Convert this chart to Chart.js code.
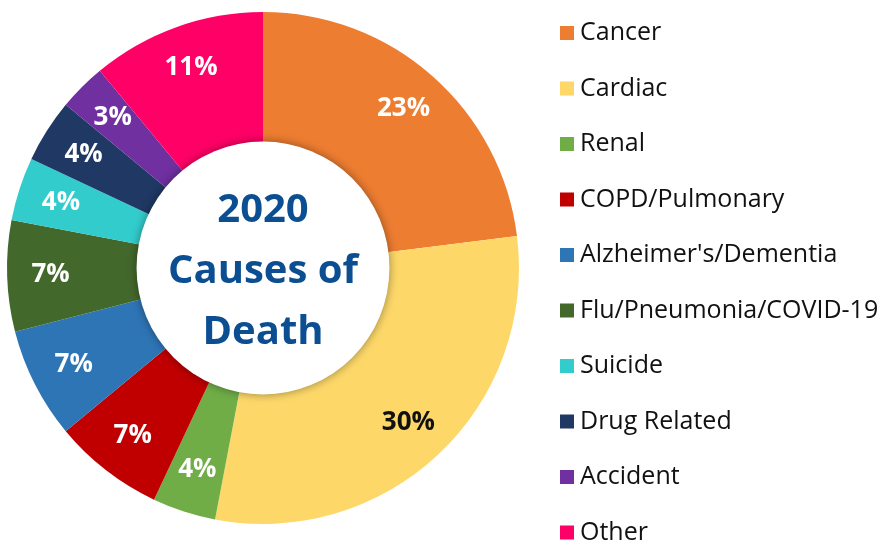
<!DOCTYPE html>
<html>
<head>
<meta charset="utf-8">
<script src="https://cdn.jsdelivr.net/npm/chart.js@4.4.1/dist/chart.umd.min.js"></script>
<style>
  html, body { margin: 0; padding: 0; background: #fff; overflow: hidden; }
  #wrap { width: 892px; height: 543px; position: relative; }
</style>
</head>
<body>
<div id="wrap"><canvas id="myChart" width="892" height="543"></canvas></div>
<script>
const causes = ["Cancer", "Cardiac", "Renal", "COPD/Pulmonary", "Alzheimer's/Dementia",
  "Flu/Pneumonia/COVID-19", "Suicide", "Drug Related", "Accident", "Other"];
const percents = [23, 30, 4, 7, 7, 7, 4, 4, 3, 11];
const sliceColors = ["#ED7D31", "#FDD869", "#70AD47", "#C00000", "#2E75B6",
  "#43682B", "#33CCCC", "#1F3864", "#7030A0", "#FF0066"];
const labelColors = ["#fff", "#111", "#fff", "#fff", "#fff", "#fff", "#fff", "#fff", "#fff", "#fff"];
const centerLines = ["2020", "Causes of", "Death"];

// white centre disc with soft shadow + title text
const centerPlugin = {
  id: 'centerPlugin',
  afterDatasetsDraw(chart) {
    const ctx = chart.ctx;
    const arc = chart.getDatasetMeta(0).data[0];
    const { x, y, innerRadius } = arc.getProps(['x', 'y', 'innerRadius'], true);
    ctx.save();
    ctx.shadowColor = 'rgba(0,0,0,0.4)';
    ctx.shadowBlur = 10;
    ctx.beginPath();
    ctx.arc(x, y, innerRadius + 1, 0, Math.PI * 2);
    ctx.fillStyle = '#fff';
    ctx.fill();
    ctx.restore();

    ctx.save();
    ctx.fillStyle = '#0B4F92';
    ctx.font = 'bold 40px "Open Sans", sans-serif';
    ctx.textAlign = 'center';
    ctx.textBaseline = 'middle';
    centerLines.forEach((t, i) => {
      ctx.fillText(t, x, y - 57 + i * 61);
    });
    ctx.restore();

    // percent labels on slices
    ctx.save();
    ctx.font = 'bold 26px "Open Sans", sans-serif';
    ctx.textAlign = 'center';
    ctx.textBaseline = 'middle';
    chart.getDatasetMeta(0).data.forEach((el, i) => {
      const p = el.getProps(['x', 'y', 'startAngle', 'endAngle', 'outerRadius'], true);
      const a = (p.startAngle + p.endAngle) / 2;
      const r = p.outerRadius * 0.83;
      ctx.fillStyle = labelColors[i];
      ctx.fillText(percents[i] + '%', p.x + r * Math.cos(a), p.y + r * Math.sin(a));
    });
    ctx.restore();
  }
};

// legend drawn by hand so it can run off the bottom like the original
const sideLegend = {
  id: 'sideLegend',
  afterDraw(chart) {
    const ctx = chart.ctx;
    ctx.save();
    ctx.font = '25px "Open Sans", sans-serif';
    ctx.textBaseline = 'middle';
    causes.forEach((c, i) => {
      const cy = 33 + i * 55.5;
      ctx.fillStyle = sliceColors[i];
      ctx.fillRect(560, cy - 7, 14, 14);
      ctx.fillStyle = '#111';
      ctx.fillText(c, 580, cy);
    });
    ctx.restore();
  }
};

new Chart(document.getElementById('myChart'), {
  type: 'doughnut',
  data: {
    labels: causes,
    datasets: [{
      data: percents,
      backgroundColor: sliceColors,
      borderWidth: 0
    }]
  },
  options: {
    responsive: false,
    animation: false,
    cutout: '49%',
    layout: { padding: { left: 7, right: 373, top: 12, bottom: 19 } },
    plugins: {
      legend: { display: false },
      tooltip: { enabled: false }
    }
  },
  plugins: [centerPlugin, sideLegend]
});
</script>
</body>
</html>
